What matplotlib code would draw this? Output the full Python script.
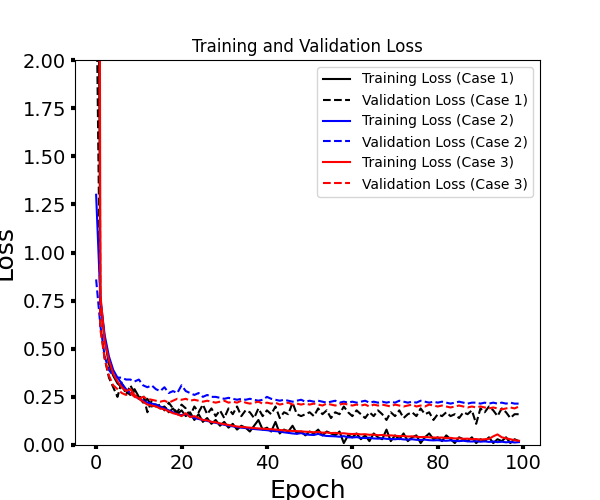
import numpy as np
import matplotlib
matplotlib.use('Agg')
import matplotlib.pyplot as plt

# loss values, 100 epochs
epochs = np.arange(100)

train_c1 = [5.0, 0.75, 0.55, 0.42, 0.36, 0.32, 0.30, 0.28, 0.26, 0.29,
            0.25, 0.22, 0.24, 0.20, 0.21, 0.19, 0.20, 0.17, 0.19, 0.16,
            0.18, 0.15, 0.17, 0.13, 0.16, 0.12, 0.14, 0.11, 0.13, 0.10,
            0.12, 0.09, 0.11, 0.08, 0.10, 0.09, 0.07, 0.10, 0.13, 0.08,
            0.09, 0.07, 0.12, 0.06, 0.08, 0.07, 0.10, 0.06, 0.07, 0.05,
            0.07, 0.06, 0.08, 0.05, 0.07, 0.06, 0.05, 0.07, 0.01, 0.05,
            0.04, 0.06, 0.03, 0.05, 0.02, 0.06, 0.04, 0.03, 0.08, 0.02,
            0.05, 0.03, 0.06, 0.02, 0.04, 0.05, 0.01, 0.04, 0.06, 0.03,
            0.04, 0.02, 0.05, 0.03, 0.01, 0.04, 0.03, 0.02, 0.04, 0.01,
            0.03, 0.02, 0.04, 0.01, 0.03, 0.02, 0.04, 0.01, 0.03, 0.02]
val_c1 = [2.5, 0.62, 0.45, 0.35, 0.30, 0.25, 0.33, 0.26, 0.31, 0.27,
          0.24, 0.26, 0.17, 0.23, 0.20, 0.21, 0.18, 0.22, 0.19, 0.17,
          0.21, 0.19, 0.15, 0.20, 0.17, 0.21, 0.16, 0.19, 0.15, 0.18,
          0.14, 0.19, 0.16, 0.20, 0.15, 0.18, 0.17, 0.14, 0.19, 0.15,
          0.18, 0.16, 0.20, 0.14, 0.17, 0.16, 0.22, 0.16, 0.15, 0.16,
          0.17, 0.15, 0.19, 0.16, 0.18, 0.14, 0.17, 0.16, 0.20, 0.17,
          0.15, 0.18, 0.16, 0.14, 0.17, 0.15, 0.18, 0.16, 0.13, 0.17,
          0.15, 0.18, 0.14, 0.16, 0.17, 0.15, 0.19, 0.16, 0.17, 0.13,
          0.16, 0.15, 0.17, 0.15, 0.16, 0.14, 0.17, 0.16, 0.18, 0.11,
          0.19, 0.17, 0.20, 0.18, 0.15, 0.19, 0.17, 0.14, 0.16, 0.16]

train_c2 = [1.30, 0.76, 0.57, 0.46, 0.39, 0.35, 0.32, 0.29, 0.27, 0.255,
            0.24, 0.23, 0.22, 0.215, 0.21, 0.20, 0.19, 0.18, 0.17, 0.16,
            0.155, 0.16, 0.15, 0.14, 0.135, 0.13, 0.125, 0.12, 0.115, 0.11,
            0.105, 0.10, 0.097, 0.093, 0.09, 0.088, 0.086, 0.083, 0.081, 0.079,
            0.077, 0.074, 0.072, 0.070, 0.066, 0.063, 0.060, 0.058, 0.062, 0.055,
            0.053, 0.052, 0.058, 0.050, 0.047, 0.046, 0.045, 0.043, 0.046, 0.040,
            0.039, 0.041, 0.037, 0.036, 0.038, 0.034, 0.033, 0.035, 0.032, 0.031,
            0.030, 0.032, 0.029, 0.028, 0.030, 0.027, 0.026, 0.028, 0.025, 0.024,
            0.025, 0.023, 0.022, 0.024, 0.021, 0.020, 0.022, 0.019, 0.018, 0.020,
            0.017, 0.019, 0.016, 0.018, 0.015, 0.017, 0.014, 0.016, 0.013, 0.015]
val_c2 = [0.86, 0.62, 0.46, 0.39, 0.36, 0.35, 0.35, 0.34, 0.34, 0.33,
          0.34, 0.31, 0.30, 0.31, 0.29, 0.28, 0.30, 0.27, 0.28, 0.27,
          0.31, 0.28, 0.27, 0.26, 0.27, 0.25, 0.26, 0.25, 0.25, 0.245,
          0.24, 0.245, 0.24, 0.235, 0.24, 0.235, 0.24, 0.235, 0.23, 0.235,
          0.25, 0.24, 0.235, 0.23, 0.235, 0.23, 0.225, 0.23, 0.235, 0.225,
          0.23, 0.225, 0.23, 0.225, 0.22, 0.225, 0.23, 0.22, 0.225, 0.22,
          0.225, 0.22, 0.225, 0.23, 0.22, 0.225, 0.22, 0.225, 0.22, 0.225,
          0.22, 0.23, 0.225, 0.22, 0.225, 0.22, 0.23, 0.225, 0.22, 0.225,
          0.22, 0.225, 0.22, 0.215, 0.22, 0.225, 0.22, 0.215, 0.22, 0.22,
          0.215, 0.22, 0.215, 0.22, 0.215, 0.22, 0.215, 0.22, 0.215, 0.215]

train_c3 = [12.0, 0.78, 0.54, 0.44, 0.37, 0.33, 0.30, 0.28, 0.29, 0.26,
            0.24, 0.225, 0.21, 0.205, 0.20, 0.19, 0.185, 0.175, 0.165, 0.16,
            0.15, 0.165, 0.145, 0.15, 0.14, 0.13, 0.128, 0.12, 0.118, 0.112,
            0.108, 0.104, 0.10, 0.096, 0.094, 0.092, 0.09, 0.088, 0.086, 0.085,
            0.083, 0.082, 0.080, 0.078, 0.076, 0.074, 0.073, 0.072, 0.071, 0.069,
            0.068, 0.066, 0.068, 0.064, 0.065, 0.062, 0.063, 0.060, 0.061, 0.058,
            0.057, 0.058, 0.055, 0.056, 0.053, 0.054, 0.051, 0.052, 0.049, 0.050,
            0.048, 0.046, 0.047, 0.044, 0.045, 0.043, 0.041, 0.042, 0.040, 0.039,
            0.038, 0.039, 0.036, 0.037, 0.034, 0.035, 0.032, 0.033, 0.030, 0.031,
            0.028, 0.030, 0.032, 0.045, 0.055, 0.040, 0.035, 0.030, 0.025, 0.022]
val_c3 = [8.0, 0.60, 0.45, 0.36, 0.31, 0.29, 0.27, 0.26, 0.27, 0.25,
          0.24, 0.25, 0.24, 0.235, 0.23, 0.225, 0.23, 0.22, 0.23, 0.24,
          0.235, 0.24, 0.23, 0.235, 0.23, 0.225, 0.23, 0.225, 0.22, 0.225,
          0.23, 0.22, 0.225, 0.22, 0.23, 0.22, 0.215, 0.22, 0.225, 0.215,
          0.22, 0.215, 0.22, 0.21, 0.215, 0.22, 0.21, 0.215, 0.21, 0.215,
          0.21, 0.215, 0.21, 0.205, 0.215, 0.21, 0.205, 0.21, 0.215, 0.21,
          0.205, 0.21, 0.205, 0.21, 0.20, 0.21, 0.205, 0.21, 0.205, 0.20,
          0.21, 0.205, 0.20, 0.205, 0.21, 0.20, 0.205, 0.20, 0.21, 0.205,
          0.20, 0.205, 0.20, 0.195, 0.20, 0.205, 0.20, 0.195, 0.20, 0.195,
          0.20, 0.195, 0.19, 0.195, 0.19, 0.185, 0.19, 0.195, 0.19, 0.20]

fig, ax = plt.subplots(figsize=(6, 5), dpi=100)

ax.plot(epochs, train_c1, color='black', label='Training Loss (Case 1)')
ax.plot(epochs, val_c1, color='black', linestyle='--', label='Validation Loss (Case 1)')
ax.plot(epochs, train_c2, color='blue', label='Training Loss (Case 2)')
ax.plot(epochs, val_c2, color='blue', linestyle='--', label='Validation Loss (Case 2)')
ax.plot(epochs, train_c3, color='red', label='Training Loss (Case 3)')
ax.plot(epochs, val_c3, color='red', linestyle='--', label='Validation Loss (Case 3)')

ax.set_ylim(0, 2)
ax.set_title('Training and Validation Loss')
ax.set_xlabel('Epoch', fontsize=18)
ax.set_ylabel('Loss', fontsize=18)
ax.tick_params(labelsize=14, width=3, length=3)
ax.legend(loc='upper right', fontsize=10)

fig.savefig('out.png')
